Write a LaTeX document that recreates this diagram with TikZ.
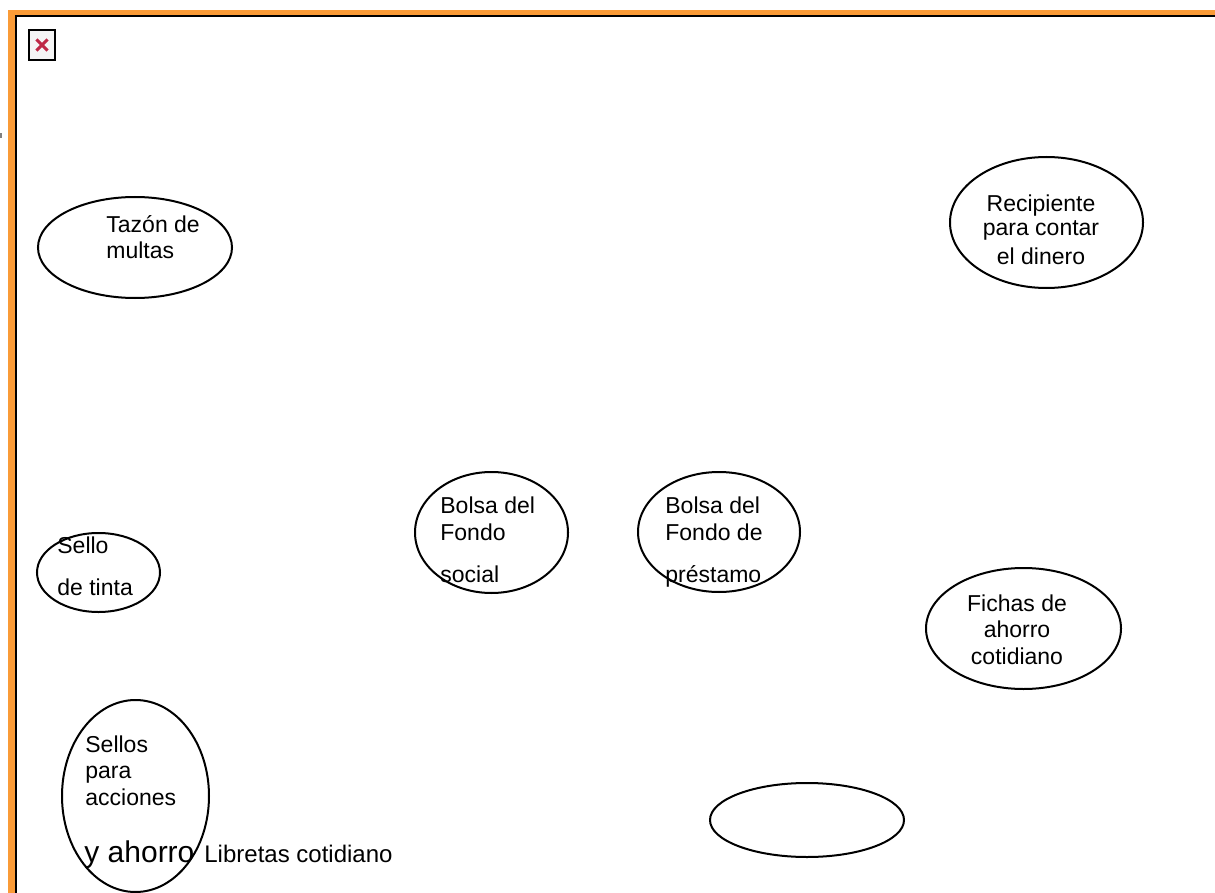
\documentclass[tikz,border=0pt]{standalone}
\usepackage{fontspec}
\setmainfont{Liberation Sans}
\usetikzlibrary{shapes.geometric}
\definecolor{frameorange}{RGB}{250,155,55}
\definecolor{iconred}{RGB}{190,40,70}
\tikzset{
  oval/.style={ellipse, draw=black, line width=1pt, inner sep=0pt},
  lbl/.style={inner sep=0pt, font=\fontsize{11.5}{13}\selectfont},
  lblw/.style={lbl, anchor=base west},
  lblc/.style={lbl, anchor=base},
}
\begin{document}
\begin{tikzpicture}[x=0.5pt,y=-0.5pt]
\useasboundingbox (0,0) rectangle (1215,893);
% frame
\fill[frameorange] (8,10) rectangle (1215,15.5);
\fill[frameorange] (8,10) rectangle (14.5,893);
\fill[black] (14.5,15.5) rectangle (1215,17.5);
\fill[black] (14.5,15.5) rectangle (16.5,893);
\fill[gray] (0,133) rectangle (1.5,138);
% broken image icon
\node[draw=black, line width=1pt, fill=gray!8, minimum width=13pt, minimum height=15pt, inner sep=0pt] (icon) at (42,45) {};
\draw[iconred, line width=1.5pt] ([shift={(-2.8pt,-2.8pt)}]icon.center) -- ([shift={(2.8pt,2.8pt)}]icon.center)
  ([shift={(-2.8pt,2.8pt)}]icon.center) -- ([shift={(2.8pt,-2.8pt)}]icon.center);
% ellipses
\node[oval, minimum width=97pt, minimum height=50.5pt] (tazon) at (135,247.5) {};
\node[oval, minimum width=96.5pt, minimum height=65.5pt] (recip) at (1046.5,222.5) {};
\node[oval, minimum width=76.5pt, minimum height=60.5pt] (bsocial) at (491.5,532.5) {};
\node[oval, minimum width=81pt, minimum height=60pt] (bprest) at (719,532) {};
\node[oval, minimum width=61.5pt, minimum height=39.5pt] (sello) at (98.5,572.5) {};
\node[oval, minimum width=97.5pt, minimum height=60.5pt] (fichas) at (1023.5,628.5) {};
\node[oval, minimum width=73.5pt, minimum height=96pt] (sellos) at (135.5,796) {};
\node[oval, minimum width=97pt, minimum height=37pt] (vacio) at (807,820) {};
% texts
\node[lblw] (t1a) at (106,233) {Tazón de};
\node[lblw] (t1b) at (106,258) {multas};
\node[lblc] (t2a) at (1041,212) {Recipiente};
\node[lblc] (t2b) at (1041,235) {para contar};
\node[lblc] (t2c) at (1041,264) {el dinero};
\node[lblw] (t3a) at (440,513) {Bolsa del};
\node[lblw] (t3b) at (440,540) {Fondo};
\node[lblw] (t3c) at (440,582) {social};
\node[lblw] (t4a) at (665,513) {Bolsa del};
\node[lblw] (t4b) at (665,540) {Fondo de};
\node[lblw] (t4c) at (665,582) {préstamo};
\node[lblw] (t5a) at (57,553) {Sello};
\node[lblw] (t5b) at (57,595) {de tinta};
\node[lblc] (t6a) at (1017,611) {Fichas de};
\node[lblc] (t6b) at (1017,637) {ahorro};
\node[lblc] (t6c) at (1017,664) {cotidiano};
\node[lblw] (t7a) at (85,752) {Sellos};
\node[lblw] (t7b) at (85,778) {para};
\node[lblw] (t7c) at (85,805) {acciones};
\node[lblw, font=\fontsize{15}{17}\selectfont] (t7d) at (84,862) {y ahorro};
\node[lblw, font=\fontsize{12}{14}\selectfont] (t8) at (204,862) {Libretas cotidiano};
\end{tikzpicture}
\end{document}
